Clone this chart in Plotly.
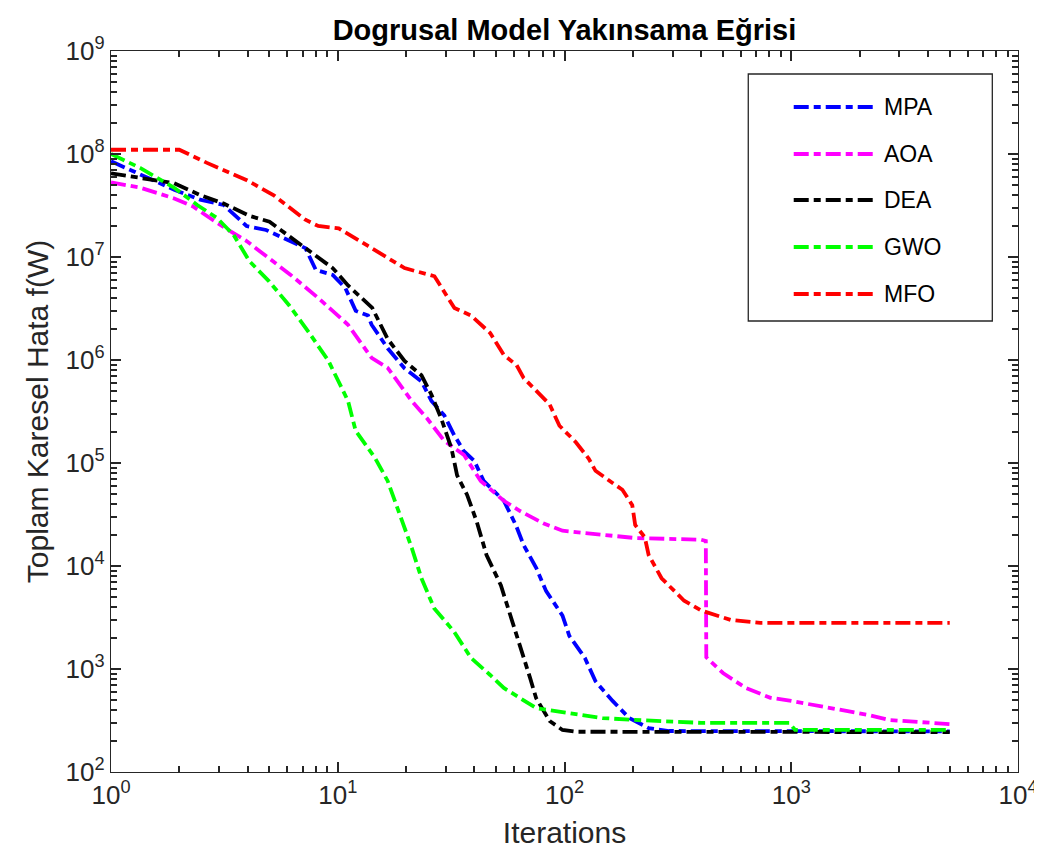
import plotly.graph_objects as go

# MPA
it_mpa = [1, 1.35, 1.9, 2.47, 3.14, 3.96, 4.83, 7.2, 8.0, 9.5, 10.8, 12, 13.6, 14.1, 16.6, 19.7,
          23.4, 25.9, 29.5, 32.6, 36, 40, 44, 54, 61, 66, 75, 83, 98, 105, 123, 137, 163, 193,
          235, 289, 5000]
mpa = [8.5e7, 6.3e7, 4.5e7, 3.6e7, 3.2e7, 2.0e7, 1.83e7, 1.22e7, 7.5e6, 6.7e6, 5.0e6, 3.0e6,
       2.7e6, 2.2e6, 1.3e6, 8.3e5, 6.2e5, 4.0e5, 2.9e5, 1.87e5, 1.3e5, 1.05e5, 6.7e4, 4.3e4,
       2.5e4, 1.6e4, 9.6e3, 5.7e3, 3.3e3, 2.1e3, 1.28e3, 760, 490, 334, 267, 250, 248]

# AOA
it_aoa = [1, 1.35, 1.9, 2.3, 2.65, 3.2, 3.96, 5.2, 6.2, 8.2, 10.1, 11.1, 14.1, 16.6, 21.2, 24.8,
          29.5, 36, 42.7, 54, 64, 80.5, 98, 147, 204, 400, 420, 422, 500, 630, 810, 1000, 1480,
          2200, 2700, 5000]
aoa = [5.3e7, 4.7e7, 3.7e7, 3.1e7, 2.5e7, 1.9e7, 1.43e7, 9.1e6, 6.7e6, 4.0e6, 2.6e6, 2.2e6,
       1.05e6, 8.4e5, 4.0e5, 2.7e5, 1.64e5, 1.2e5, 6.7e4, 4.3e4, 3.4e4, 2.6e4, 2.2e4, 2.0e4,
       1.87e4, 1.8e4, 1.75e4, 1.3e3, 915, 655, 525, 490, 417, 357, 320, 292]

# DEA
it_dea = [1, 1.35, 1.9, 2.47, 3.14, 4.1, 5.0, 7.2, 9.5, 11.1, 13.3, 14.2, 16.6, 19.7, 23.4,
          25.9, 28.6, 31.7, 33.6, 37.2, 41, 45.3, 52.4, 57.9, 63.8, 70.5, 75, 86, 98, 112, 5000]
dea = [6.5e7, 5.8e7, 5.2e7, 4.0e7, 3.3e7, 2.5e7, 2.2e7, 1.22e7, 7.8e6, 5.3e6, 3.7e6, 3.2e6,
       1.6e6, 9.8e5, 7.1e5, 4.6e5, 2.7e5, 1.4e5, 7.6e4, 4.9e4, 2.7e4, 1.28e4, 6.5e3, 3.3e3,
       1.6e3, 820, 520, 313, 256, 246, 244]

# GWO
it_gwo = [1, 1.35, 1.9, 2.4, 2.93, 3.47, 4.08, 4.98, 6.1, 7.4, 9.1, 11.1, 12, 14.6, 16.6, 19.1,
          21.2, 23.4, 26.6, 32.6, 38.7, 47, 54, 75, 124, 147, 204, 400, 980, 1040, 5000]
gwo = [1.0e8, 7.3e7, 4.7e7, 3.2e7, 2.4e7, 1.64e7, 9.1e6, 5.8e6, 3.4e6, 1.9e6, 9.8e5, 4.0e5,
       2.05e5, 1.12e5, 6.7e4, 2.9e4, 1.5e4, 7.6e3, 3.9e3, 2.3e3, 1.28e3, 875, 655, 417, 357,
       334, 320, 300, 300, 256, 256]

# MFO
it_mfo = [1, 2, 2.65, 3.95, 5.2, 7.2, 8.2, 10.1, 13.6, 19.7, 26.7, 32.7, 38.7, 47, 54, 61.5, 66,
          75, 86, 95, 112, 128, 137, 163, 180, 199, 205, 226, 235, 268, 337, 400, 540, 730, 5000]
mfo = [1.1e8, 1.1e8, 8.2e7, 5.6e7, 4.0e7, 2.3e7, 2.0e7, 1.9e7, 1.28e7, 7.8e6, 6.5e6, 3.2e6,
       2.7e6, 1.83e6, 1.12e6, 8.9e5, 6.7e5, 5.0e5, 3.7e5, 2.3e5, 1.6e5, 1.1e5, 8.4e4, 6.4e4,
       5.5e4, 3.9e4, 2.5e4, 1.9e4, 1.28e4, 7.6e3, 4.6e3, 3.7e3, 3.0e3, 2.8e3, 2.8e3]

names = ["MPA", "AOA", "DEA", "GWO", "MFO"]
colors = ["#0000FF", "#FF00FF", "#000000", "#00FF00", "#FF0000"]
xs = [it_mpa, it_aoa, it_dea, it_gwo, it_mfo]
ys = [mpa, aoa, dea, gwo, mfo]

x_decades = [0, 1, 2, 3, 4]
y_decades = [2, 3, 4, 5, 6, 7, 8, 9]

dash = "15px,5px,7px,5px"
lw = 3.8
fig = go.Figure()
for i in range(len(names)):
    fig.add_trace(go.Scatter(x=xs[i], y=ys[i], mode="lines", name=names[i], showlegend=False,
                             line=dict(color=colors[i], width=lw, dash=dash)))
# invisible trace so the long major-tick overlay axes get drawn
fig.add_trace(go.Scatter(x=[1], y=[100], xaxis="x2", yaxis="y2", mode="markers",
                         marker=dict(opacity=0), showlegend=False, hoverinfo="skip"))

font = "Liberation Sans, Arial"
axcol = "#262626"


def all_ticks(decs):
    vals, text = [], []
    for d in decs:
        vals.append(10 ** d)
        text.append("10<sup>%d</sup>" % d)
        if d != decs[-1]:
            for m in range(2, 10):
                vals.append(m * 10 ** d)
                text.append("")
    return vals, text


xv, xt = all_ticks(x_decades)
yv, yt = all_ticks(y_decades)

common = dict(type="log", showgrid=False, zeroline=False, showline=True, linecolor=axcol,
              linewidth=1.3, mirror="ticks", ticks="inside", tickwidth=1.5, tickcolor=axcol)

fig.update_layout(
    xaxis=dict(range=[0, 4], tickvals=xv, ticktext=xt, ticklen=6, tickangle=0,
               tickfont=dict(family=font, size=26, color=axcol),
               title=dict(text="Iterations", font=dict(family=font, size=30, color=axcol),
                          standoff=12), **common),
    yaxis=dict(range=[2, 9], tickvals=yv, ticktext=yt, ticklen=6, tickangle=0,
               tickfont=dict(family=font, size=26, color=axcol),
               title=dict(text="Toplam Karesel Hata f(W)",
                          font=dict(family=font, size=30, color=axcol), standoff=8),
               **common),
    xaxis2=dict(range=[0, 4], overlaying="x", anchor="y2", side="bottom", ticklen=10,
                tickvals=[10 ** d for d in x_decades], showticklabels=False, **common),
    yaxis2=dict(range=[2, 9], overlaying="y", anchor="x2", side="left", ticklen=10,
                tickvals=[10 ** d for d in y_decades], showticklabels=False, **common),
)

# legend box drawn like the MATLAB one (long line samples)
W, H = 918.0, 721.0


def px(x):
    return (x - 103) / W


def py(y):
    return 1 - (y - 43) / H


shapes = [dict(type="rect", xref="paper", yref="paper", x0=px(748), x1=px(995), y0=py(313),
               y1=py(66), line=dict(color=axcol, width=1.3), fillcolor="white", layer="above")]
annotations = []
rows = [99, 146, 192, 239, 286]
for i in range(len(names)):
    shapes.append(dict(type="line", xref="paper", yref="paper", x0=px(794), x1=px(878),
                       y0=py(rows[i]), y1=py(rows[i]), layer="above",
                       line=dict(color=colors[i], width=lw, dash=dash)))
    annotations.append(dict(text=names[i], xref="paper", yref="paper", x=px(883), y=py(rows[i]),
                            xanchor="left", yanchor="middle", showarrow=False,
                            font=dict(family=font, size=23, color="black")))

fig.update_layout(
    width=1042, height=859,
    margin=dict(l=103, r=21, t=43, b=95),
    paper_bgcolor="white", plot_bgcolor="white",
    title=dict(text="<b>Dogrusal Model Yakınsama Eğrisi</b>", x=0.5, xref="paper", y=0.975,
               yanchor="middle", font=dict(family=font, size=29, color="black")),
    shapes=shapes, annotations=annotations, showlegend=False,
)

fig.write_html("out.html")
